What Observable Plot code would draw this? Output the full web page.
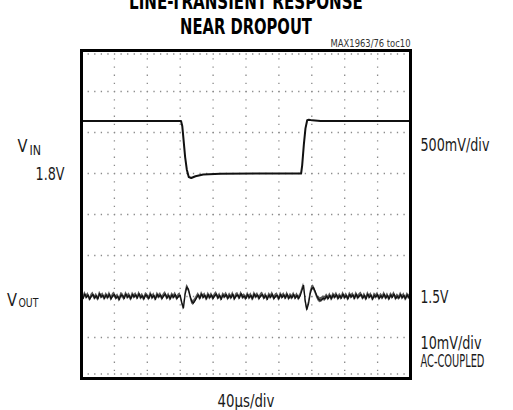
<!DOCTYPE html>
<html><head><meta charset="utf-8">
<script src="https://cdn.jsdelivr.net/npm/d3@7"></script>
<script src="https://cdn.jsdelivr.net/npm/@observablehq/plot@0.6"></script>
<style>
html,body{margin:0;padding:0;background:#fff;}
#chart svg{display:block;}
</style></head><body><div id="chart"></div>
<script>
// ---- data ----
const titleLines = ["LINE-TRANSIENT RESPONSE", "NEAR DROPOUT"];
const figureId = "MAX1963/76 toc10";
const timePerDiv = 40;          // µs/div
const vinPerDiv = 0.5;          // V/div
const voutPerDiv = 10;          // mV/div
const vinRef = 1.8;             // V, reference level label
const voutRef = 1.5;            // V, reference level label
const vinRefDiv = 5;            // divisions from bottom
const voutRefDiv = 2;
const xGrid = [40, 80, 120, 160, 200, 240, 280, 320, 360];   // µs
const yGrid = [1, 2, 3, 4, 5, 6, 7];                          // divisions

// VIN trace (µs, V)
const vinTime  = [0, 121, 122.5, 124, 126, 128, 130.4, 133.4, 138.6, 148, 169, 217, 267, 268.3, 270.3, 272.3, 274.4, 276.4, 280.5, 290.6, 400];
const vinVolts = [2.44, 2.44, 2.38, 2.22, 2.0, 1.85, 1.757, 1.745, 1.766, 1.787, 1.796, 1.80, 1.80, 1.90, 2.15, 2.35, 2.45, 2.455, 2.448, 2.44, 2.44];

// VOUT trace, AC-coupled deviation (mV), sampled every 2 µs from 0 to 400 µs
const voutStep = 2;
const voutMv = [
  0.3,-0.5,0.6,-0.2,0.4,-0.7,0.1,0.5,-0.4,0.2,
  -0.6,0.7,-0.1,0.3,-0.5,0.4,-0.3,0.6,-0.6,0.2,
  0.5,-0.4,0.1,-0.8,0.4,0.2,-0.5,0.6,-0.2,0.3,
  -0.6,0.5,-0.1,0.4,-0.4,0.7,-0.3,0.2,-0.6,0.4,
  0.1,-0.5,0.6,-0.3,0.3,-0.7,0.5,-0.1,0.4,-0.5,
  0.2,0.6,-0.4,0.3,-0.6,0.4,-0.2,0.5,-0.5,0.1,
  0.3,-1.5,-2.8,0.5,2.3,1.8,0.2,-1.2,-1.6,-1.0,
  -0.3,0.4,-0.5,0.6,-0.2,0.3,-0.6,0.5,-0.3,0.4,
  -0.5,0.2,0.6,-0.4,0.3,-0.7,0.4,-0.1,0.5,-0.5,
  0.3,-0.3,0.6,-0.6,0.2,0.4,-0.4,0.7,-0.2,0.1,
  -0.5,0.5,-0.3,0.3,-0.6,0.6,-0.1,0.4,-0.5,0.2,
  0.5,-0.4,0.3,-0.7,0.4,-0.2,0.6,-0.5,0.1,0.3,
  -0.6,0.5,-0.2,0.4,-0.4,0.6,-0.5,0.2,-0.3,0.5,
  -0.4,0.3,-0.5,0.2,1.5,2.7,-1.0,-3.2,-1.8,0.6,
  2.0,2.2,1.3,0.2,-0.6,-0.9,-0.8,-0.4,-0.6,0.1,
  -0.5,0.3,-0.6,0.4,-0.2,0.5,-0.5,0.2,-0.4,0.6,
  -0.3,0.3,-0.6,0.5,-0.1,0.4,-0.5,0.6,-0.3,0.2,
  0.5,-0.4,0.3,-0.6,0.6,-0.2,0.4,-0.7,0.3,-0.1,
  0.5,-0.5,0.2,-0.3,0.6,-0.4,0.3,-0.6,0.4,-0.2,
  0.6,-0.5,0.1,-0.4,0.5,-0.3,0.3,-0.6,0.4,-0.2,
  0.3
];
const voutNoiseHalfBandMv = 0.6;   // half-width of the dense noise band around the trace

// ---- derived tables ----
const vin = vinTime.map((t, i) => ({t, div: vinRefDiv + (vinVolts[i] - vinRef) / vinPerDiv}));
const vout = voutMv.map((mv, i) => ({t: i * voutStep, div: voutRefDiv + mv / voutPerDiv}));
const bandDiv = voutNoiseHalfBandMv / voutPerDiv;

// rendered widths of texts (px) to mimic the condensed typeface
const textWidths = {
  "LINE-TRANSIENT RESPONSE": 234, "NEAR DROPOUT": 132, "MAX1963/76 toc10": 80,
  "500mV/div": 69, "1.8V": 29, "1.5V": 28, "10mV/div": 61, "AC-COUPLED": 64, "40µs/div": 57,
  "V": 10, "IN": 11.5, "OUT": 20
};

const NARROW = "'Liberation Sans Narrow','Arial Narrow','DejaVu Sans Condensed',sans-serif";
const ink = "#1a1a1a";
const lbl = (s, o) => Plot.text([s], {text: d => d, fill: ink, fontFamily: NARROW, fontSize: 17, lineAnchor: "bottom", ...o});

const chart = Plot.plot({
  width: 513, height: 410,
  marginLeft: 81, marginRight: 103, marginTop: 50, marginBottom: 32,
  x: {domain: [0, 10 * timePerDiv], axis: null},
  y: {domain: [0, 8], axis: null},
  style: {background: "#fff", fontFamily: NARROW, color: ink},
  marks: [
    Plot.ruleX(xGrid, {stroke: "#8a8a8a", strokeWidth: 1.3, strokeDasharray: "1.3,6.9"}),
    Plot.ruleY(yGrid, {stroke: "#8a8a8a", strokeWidth: 1.3, strokeDasharray: "1.3,5.28"}),
    Plot.ruleY([8], {stroke: "#8a8a8a", strokeWidth: 1.3, strokeDasharray: "1.3,5.28", dy: 3.5}),
    Plot.ruleY([0], {stroke: "#8a8a8a", strokeWidth: 1.3, strokeDasharray: "1.3,5.28", dy: -4.5}),
    Plot.areaY(vout, {x: "t", y1: d => d.div - bandDiv, y2: d => d.div + bandDiv, fill: "#333", fillOpacity: 0.8}),
    Plot.line(vout, {x: "t", y: "div", stroke: "#111", strokeWidth: 1.3}),
    Plot.line(vin, {x: "t", y: "div", stroke: "#111", strokeWidth: 2}),
    Plot.frame({stroke: "#000", strokeWidth: 3}),
    // title
    Plot.text([titleLines[0]], {text: d => d, frameAnchor: "top", dy: -42, lineAnchor: "bottom",
      fontSize: 21, fontWeight: "bold", fontFamily: NARROW, fill: "#000"}),
    Plot.text([titleLines[1]], {text: d => d, frameAnchor: "top", dy: -17, lineAnchor: "bottom",
      fontSize: 21, fontWeight: "bold", fontFamily: NARROW, fill: "#000"}),
    Plot.text([figureId], {text: d => d, frameAnchor: "top-right", dy: -4, lineAnchor: "bottom", textAnchor: "end",
      fontSize: 10.5, fontFamily: NARROW, fill: "#333"}),
    // left labels
    lbl("V", {y: () => vinRefDiv, frameAnchor: "left", dx: -64, dy: -21.5, textAnchor: "start"}),
    lbl("IN", {y: () => vinRefDiv, frameAnchor: "left", dx: -52, dy: -19, textAnchor: "start", fontSize: 14}),
    lbl(vinRef.toFixed(1) + "V", {y: () => vinRefDiv, frameAnchor: "left", dx: -17, dy: 6.8, textAnchor: "end"}),
    lbl("V", {y: () => voutRefDiv, frameAnchor: "left", dx: -74.5, dy: 9, textAnchor: "start"}),
    lbl("OUT", {y: () => voutRefDiv, frameAnchor: "left", dx: -63, dy: 10.5, textAnchor: "start", fontSize: 13}),
    // right labels
    lbl(vinPerDiv * 1000 + "mV/div", {y: () => vinRefDiv, frameAnchor: "right", dx: 10, dy: -22.5, textAnchor: "start"}),
    lbl(voutRef.toFixed(1) + "V", {y: () => voutRefDiv, frameAnchor: "right", dx: 10, dy: 6.4, textAnchor: "start"}),
    lbl(voutPerDiv + "mV/div", {y: () => voutRefDiv, frameAnchor: "right", dx: 10, dy: 52.4, textAnchor: "start"}),
    lbl("AC-COUPLED", {y: () => voutRefDiv, frameAnchor: "right", dx: 10, dy: 70.6, textAnchor: "start"}),
    // bottom label
    lbl(timePerDiv + "µs/div", {frameAnchor: "bottom", dy: 28})
  ]
});
document.getElementById("chart").append(chart);
// horizontally condense each text to the reference width (scaling about its anchor point)
chart.querySelectorAll("text").forEach(el => {
  const w = textWidths[el.textContent];
  if (!w) return;
  const natural = el.getComputedTextLength();
  if (!natural) return;
  const sx = w / natural;
  let tr = el.getAttribute("transform");
  if (!tr) {
    const x = +el.getAttribute("x") || 0, y = +el.getAttribute("y") || 0;
    el.removeAttribute("x"); el.removeAttribute("y");
    tr = `translate(${x},${y})`;
  }
  el.setAttribute("transform", `${tr} scale(${sx.toFixed(4)},1)`);
});
</script></body></html>
